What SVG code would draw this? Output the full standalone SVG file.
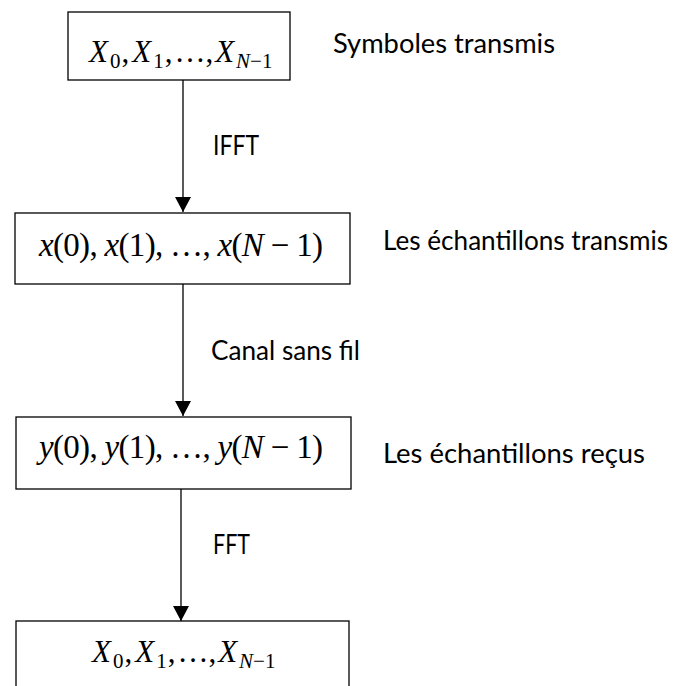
<svg xmlns="http://www.w3.org/2000/svg" width="682" height="686" viewBox="0 0 682 686">
<style>
.box{fill:#fff;stroke:#000;stroke-width:1.3}
.lbl{font-family:Lato,"Open Sans","Liberation Sans",sans-serif;font-size:26px;fill:#000}
.m{font-family:"Liberation Serif","DejaVu Serif",serif;font-size:33px;fill:#000}
.m2{font-family:"Liberation Serif","DejaVu Serif",serif;font-size:31px;fill:#000}
.i{font-style:italic}
.sub{font-size:21px;font-style:normal}
.subi{font-size:21px;font-style:italic}
.conn{stroke:#000;stroke-width:1.3;fill:none}
</style>
<defs>
<marker id="ah" markerUnits="userSpaceOnUse" markerWidth="15" markerHeight="16" refX="15" refY="8" orient="auto" viewBox="0 0 15 16">
<path d="M0,0 L15,8 L0,16 Z" fill="#000"/>
</marker>
</defs>
<rect width="682" height="686" fill="#fff"/>
<g id="connectors">
<line class="conn" x1="183" y1="80" x2="183" y2="212" marker-end="url(#ah)"/>
<line class="conn" x1="183" y1="284" x2="183" y2="416" marker-end="url(#ah)"/>
<line class="conn" x1="181" y1="489" x2="181" y2="621" marker-end="url(#ah)"/>
<text class="lbl" x="213" y="155" textLength="46" lengthAdjust="spacingAndGlyphs">IFFT</text>
<text class="lbl" x="211" y="360" textLength="149" lengthAdjust="spacingAndGlyphs">Canal sans fil</text>
<text class="lbl" x="213" y="554" textLength="37" lengthAdjust="spacingAndGlyphs">FFT</text>
</g>
<g id="node1">
<rect class="box" x="68" y="12" width="222" height="68"/>
<text class="m2" x="89" y="62"><tspan class="i">X</tspan><tspan class="sub" dx="2" dy="6">0</tspan><tspan dx="1" dy="-6">,</tspan><tspan class="i" dx="3">X</tspan><tspan class="sub" dx="2" dy="6">1</tspan><tspan dx="1" dy="-6">,</tspan><tspan dx="2">…</tspan><tspan>,</tspan><tspan class="i" dx="2">X</tspan><tspan class="subi" dx="2" dy="6">N</tspan><tspan class="sub">−1</tspan></text>
<text class="lbl" x="333" y="53" textLength="222" lengthAdjust="spacingAndGlyphs">Symboles transmis</text>
</g>
<g id="node2">
<rect class="box" x="15" y="213" width="335" height="71"/>
<text class="m" x="39" y="256" textLength="284" lengthAdjust="spacing"><tspan class="i">x</tspan>(0), <tspan class="i">x</tspan>(1), …, <tspan class="i">x</tspan>(<tspan class="i">N</tspan> − 1)</text>
<text class="lbl" x="383" y="250" textLength="285" lengthAdjust="spacingAndGlyphs">Les échantillons transmis</text>
</g>
<g id="node3">
<rect class="box" x="16" y="417" width="335" height="72"/>
<text class="m" x="39" y="458" textLength="284" lengthAdjust="spacing"><tspan class="i">y</tspan>(0), <tspan class="i">y</tspan>(1), …, <tspan class="i">y</tspan>(<tspan class="i">N</tspan> − 1)</text>
<text class="lbl" x="383" y="463" textLength="262" lengthAdjust="spacingAndGlyphs">Les échantillons reçus</text>
</g>
<g id="node4">
<rect class="box" x="16" y="621" width="333" height="90"/>
<text class="m2" x="92" y="662"><tspan class="i">X</tspan><tspan class="sub" dx="2" dy="6">0</tspan><tspan dx="1" dy="-6">,</tspan><tspan class="i" dx="3">X</tspan><tspan class="sub" dx="2" dy="6">1</tspan><tspan dx="1" dy="-6">,</tspan><tspan dx="2">…</tspan><tspan>,</tspan><tspan class="i" dx="2">X</tspan><tspan class="subi" dx="2" dy="6">N</tspan><tspan class="sub">−1</tspan></text>
</g>
</svg>
